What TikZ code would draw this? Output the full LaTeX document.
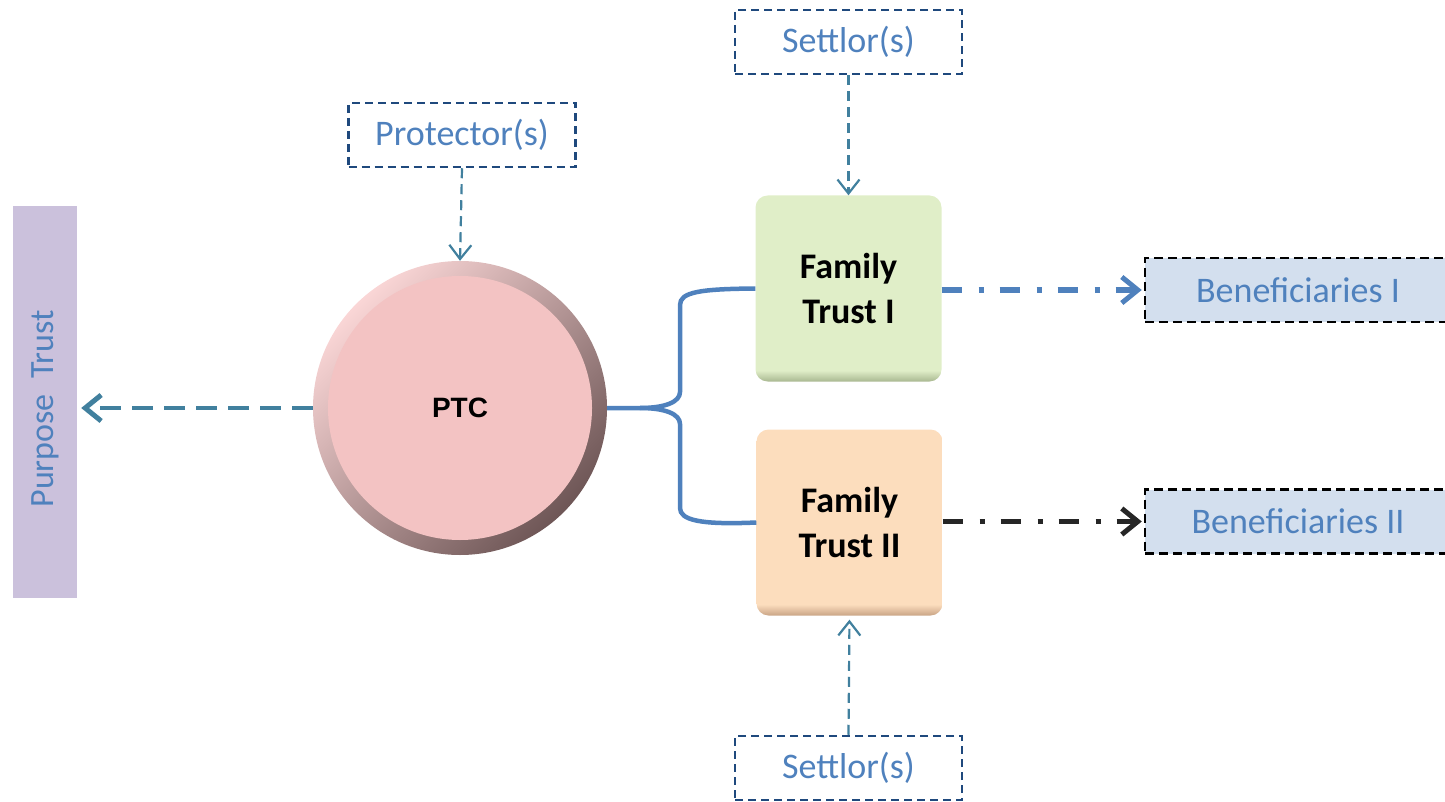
\documentclass[tikz,border=0pt]{standalone}
\usepackage{fontspec}
\setmainfont{Carlito}
\newfontfamily\arialf{Liberation Sans}
\usetikzlibrary{arrows.meta}
\definecolor{txtblue}{HTML}{4F81BD}
\definecolor{boxborder}{HTML}{1F497D}
\definecolor{teal}{HTML}{41809E}
\definecolor{ptfill}{HTML}{CBC1DC}
\definecolor{benfill}{HTML}{D3DFEE}
\definecolor{ptcin}{HTML}{F3C3C3}
\definecolor{ptclight}{HTML}{FAD6D6}
\definecolor{ptcdark}{HTML}{6E5656}
\definecolor{gm}{HTML}{E0EEC8}
\definecolor{gd}{HTML}{A9B891}
\definecolor{om}{HTML}{FCDDBD}
\definecolor{od}{HTML}{C9A486}
\definecolor{darkline}{HTML}{262626}
\pgfdeclareverticalshading{ftgreen}{100bp}{color(0bp)=(gd); color(25bp)=(gd); color(28bp)=(gm); color(100bp)=(gm)}
\pgfdeclareverticalshading{ftorange}{100bp}{color(0bp)=(od); color(25bp)=(od); color(28bp)=(om); color(100bp)=(om)}
\begin{document}
\begin{tikzpicture}[x=1pt,y=-1pt,
  lbl/.style={font=\fontsize{36}{43}\selectfont, text=txtblue, inner sep=0pt},
  dbox/.style={lbl, draw=boxborder, line width=2.5pt, dash pattern=on 8pt off 5pt, minimum width=227pt, minimum height=64pt},
  benbox/.style={lbl, draw=black, fill=benfill, line width=2.5pt, dash pattern=on 9pt off 5pt, minimum width=306pt, minimum height=64pt},
  ftbox/.style={rounded corners=12pt, minimum width=186pt, minimum height=186pt, inner sep=0pt, align=center,
     font=\bfseries\fontsize{36}{45}\selectfont, text=black},
  smallarr/.style={draw=teal, line width=2.2pt, dash pattern=on 10pt off 6pt, -{Straight Barb[length=14pt,width=22pt,line width=2.2pt]}},
  bigarr/.style={line width=5pt, -{Straight Barb[length=16pt,width=26pt,line width=5pt]}},
]
\useasboundingbox (0,0) rectangle (1445,802);
% Purpose trust
\node[fill=ptfill, minimum width=64pt, minimum height=392pt, inner sep=0pt] (pt) at (45,402) {};
\node[rotate=90, inner sep=0pt, font=\fontsize{34}{40}\selectfont, text=txtblue] (pttxt) at (45,409) {Purpose\ \ Trust};
% PTC
\node[circle, minimum size=294pt, inner sep=0pt, top color=ptclight, bottom color=ptcdark, shading angle=45,
  path picture={\fill[ptcin] (path picture bounding box.center) circle (132pt);},
  font=\arialf\bfseries\fontsize{28}{32}\selectfont] (ptc) at (460,408) {PTC};
% Protector
\node[dbox] (prot) at (462,135) {Protector(s)};
% Settlors
\node[dbox] (set1) at (848.5,42) {Settlor(s)};
\node[dbox] (set2) at (848.5,768) {Settlor(s)};
% Family trusts
\node[ftbox, shade, shading=ftgreen] (ft1) at (848.5,288.5) {Family\\Trust I};
\node[ftbox, shade, shading=ftorange] (ft2) at (849.5,522.5) {Family\\Trust II};
% Beneficiaries
\node[benbox] (ben1) at (1298,290) {Beneficiaries I};
\node[benbox] (ben2) at (1298,521.5) {Beneficiaries II};
% arrows
\draw[bigarr, draw=teal, line width=4.5pt, dash pattern=on 21pt off 11pt, shorten >=4pt] (ptc.west) -- (ptc.west -| pt.east);
\draw[smallarr] (prot.south) -- (ptc.north);
\draw[smallarr] (set1.south) -- (ft1.north);
\draw[smallarr, shorten >=4pt] (set2.north) -- (ft2.south);
\draw[bigarr, draw=txtblue, dash pattern=on 20pt off 17pt on 5pt off 16pt, shorten >=2pt] (ft1.east |- ben1.west) -- (ben1.west);
\draw[bigarr, draw=darkline, dash pattern=on 20pt off 17pt on 5pt off 16pt, shorten >=2pt] (ft2.east |- ben2.west) -- (ben2.west);
% brace connector
\draw[txtblue, line width=4.5pt, line join=round]
  (ft1.west) .. controls (700,289) and (680,292) .. (680,305) -- (680,392)
  .. controls (680,402) and (665,408) .. (640,408) -- (ptc.east);
\draw[txtblue, line width=4.5pt, line join=round]
  (ft2.west) .. controls (700,525) and (680,520) .. (680,508) -- (680,424)
  .. controls (680,414) and (665,408) .. (640,408);
\end{tikzpicture}
\end{document}
